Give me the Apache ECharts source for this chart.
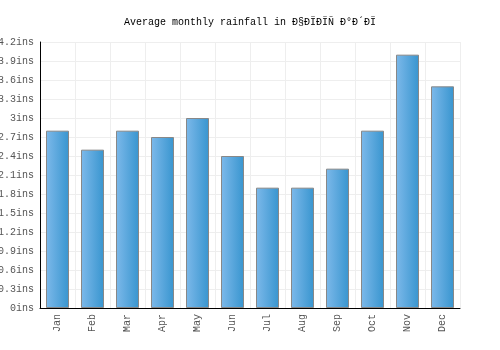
<!DOCTYPE html>
<html lang="en">
<head>
    <meta charset="UTF-8">
    <title>Average monthly rainfall</title>
    <script src="https://cdn.jsdelivr.net/npm/echarts@6/dist/echarts.min.js"></script>
    <style>
        body { margin: 0; background: #fff; }
    </style>
</head>
<body>

<!--chart container-->
<div id="chart" style="width: 500px;height: 350px;"></div>

<script>
    // data
    var months = ['Jan', 'Feb', 'Mar', 'Apr', 'May', 'Jun', 'Jul', 'Aug', 'Sep', 'Oct', 'Nov', 'Dec'];
    var rainfall = [2.8, 2.5, 2.8, 2.7, 3.0, 2.4, 1.9, 1.9, 2.2, 2.8, 4.0, 3.5];
    var titleText = 'Average monthly rainfall in Ð§ÐÏÐÏÑ Ð°Ð´ÐÏ';

    var font = 'Liberation Mono';
    var myChart = echarts.init(document.getElementById('chart'));

    var option = {
        animation: false,
        title: {
            text: titleText,
            left: 'center',
            top: 12,
            textStyle: { fontFamily: font, fontSize: 10, fontWeight: 'normal', color: '#000' }
        },
        grid: { left: 40, right: 40, top: 42, bottom: 42, outerBoundsMode: 'none', containLabel: false },
        xAxis: {
            type: 'category',
            data: months,
            axisLine: { lineStyle: { color: '#000', width: 1 } },
            axisTick: { show: false },
            axisLabel: { rotate: 90, fontFamily: font, fontSize: 10, color: '#555', margin: 6 },
            splitLine: { show: true, lineStyle: { color: '#eee' } }
        },
        yAxis: {
            type: 'value',
            min: 0,
            max: 4.2,
            interval: 0.3,
            axisLine: { show: true, lineStyle: { color: '#000', width: 1 } },
            axisTick: { show: false },
            axisLabel: {
                fontFamily: font, fontSize: 10, color: '#555', margin: 6,
                formatter: function (v) { return Number(v.toFixed(1)) + 'ins'; }
            },
            splitLine: { lineStyle: { color: '#eee' } }
        },
        series: [{
            type: 'bar',
            data: rainfall,
            barWidth: 23,
            itemStyle: {
                borderColor: '#888',
                borderWidth: 1,
                color: new echarts.graphic.LinearGradient(0, 0, 1, 0, [
                    { offset: 0, color: '#7db9ea' },
                    { offset: 1, color: '#3895cf' }
                ])
            }
        }]
    };
    myChart.setOption(option);
</script>
</body>
</html>
